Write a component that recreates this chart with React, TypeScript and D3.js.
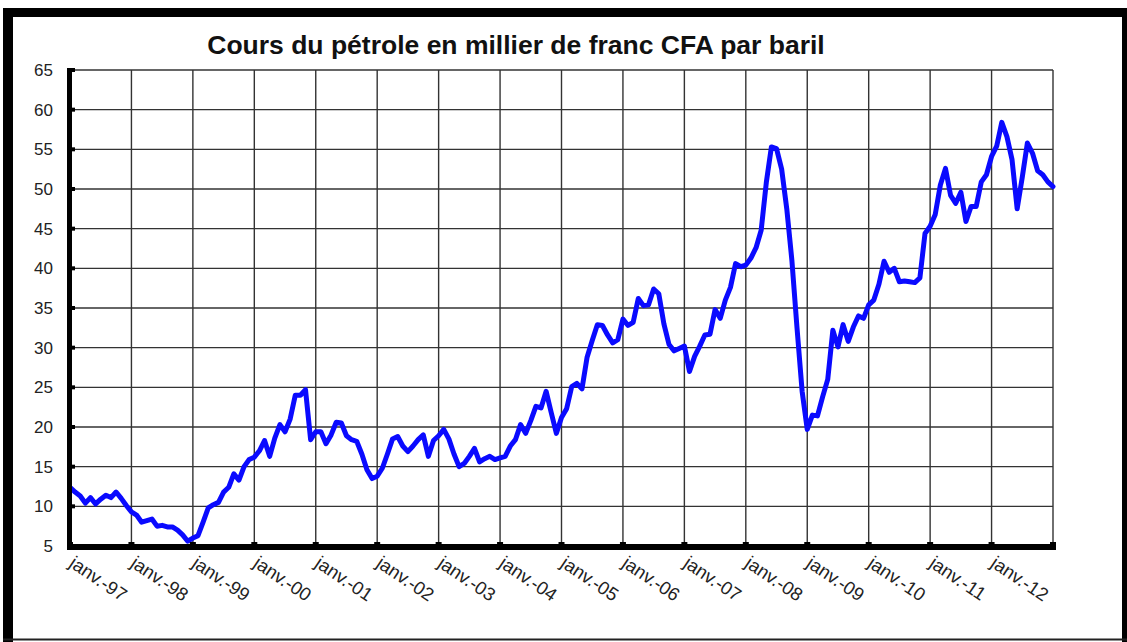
import React, { useEffect, useRef } from 'react';
import * as d3 from 'd3';

const title = "Cours du pétrole en millier de franc CFA par baril";

// monthly values (janv. -> déc.), one array per year
const y1997 = [12.4, 11.8, 11.3, 10.4, 11.1, 10.3, 10.9, 11.4, 11.1, 11.8, 11.0, 10.1];
const y1998 = [9.3, 8.9, 8.0, 8.2, 8.4, 7.5, 7.6, 7.4, 7.4, 7.0, 6.4, 5.6];
const y1999 = [6.0, 6.3, 8.0, 9.8, 10.2, 10.5, 11.8, 12.4, 14.1, 13.3, 15.0, 15.9];
const y2000 = [16.2, 17.0, 18.3, 16.3, 18.6, 20.3, 19.4, 21.0, 24.0, 24.0, 24.7, 18.4];
const y2001 = [19.4, 19.4, 17.9, 19.0, 20.6, 20.5, 18.9, 18.4, 18.2, 16.6, 14.6, 13.5];
const y2002 = [13.8, 14.8, 16.6, 18.5, 18.8, 17.6, 16.9, 17.6, 18.4, 19.0, 16.3, 18.3];
const y2003 = [18.9, 19.7, 18.5, 16.6, 15.0, 15.4, 16.3, 17.3, 15.6, 16.0, 16.3, 15.9];
const y2004 = [16.1, 16.3, 17.6, 18.4, 20.3, 19.2, 20.8, 22.6, 22.4, 24.5, 21.8, 19.2];
const y2005 = [21.2, 22.3, 25.1, 25.5, 24.8, 28.8, 30.9, 32.9, 32.8, 31.6, 30.6, 31.0];
const y2006 = [33.6, 32.8, 33.2, 36.2, 35.3, 35.4, 37.4, 36.8, 33.0, 30.4, 29.6, 29.9];
const y2007 = [30.2, 27.0, 28.9, 30.2, 31.6, 31.7, 34.8, 33.7, 36.0, 37.6, 40.6, 40.2];
const y2008 = [40.4, 41.3, 42.6, 44.8, 50.8, 55.3, 55.1, 52.5, 47.5, 41.0, 32.5, 24.5];
const y2009 = [19.7, 21.5, 21.4, 23.8, 26.0, 32.2, 30.1, 32.9, 30.8, 32.6, 34.0, 33.7];
const y2010 = [35.4, 36.0, 38.0, 40.9, 39.5, 40.0, 38.3, 38.4, 38.3, 38.2, 38.8, 44.4];
const y2011 = [45.3, 46.8, 50.5, 52.6, 49.2, 48.2, 49.6, 45.9, 47.8, 47.8, 50.9, 51.8];
const y2012 = [54.1, 55.4, 58.4, 56.6, 53.7, 47.5, 51.5, 55.8, 54.5, 52.3, 51.8, 50.9];
const y2013 = [50.3];

const prices = [
    ...y1997, ...y1998, ...y1999, ...y2000, ...y2001, ...y2002, ...y2003, ...y2004,
    ...y2005, ...y2006, ...y2007, ...y2008, ...y2009, ...y2010, ...y2011, ...y2012, ...y2013
];

const xLabels = ["janv.-97", "janv.-98", "janv.-99", "janv.-00", "janv.-01", "janv.-02", "janv.-03", "janv.-04",
    "janv.-05", "janv.-06", "janv.-07", "janv.-08", "janv.-09", "janv.-10", "janv.-11", "janv.-12"];
const yTicks = [5, 10, 15, 20, 25, 30, 35, 40, 45, 50, 55, 60, 65];

export default function App() {
    const ref = useRef<SVGSVGElement>(null);

    useEffect(() => {
        const svg = d3.select(ref.current);
        svg.selectAll("*").remove();

        const W = 1127, H = 642;
        const left = 70, right = 1053, top = 70, bottom = 546;
        const font = "'Liberation Sans', Arial, sans-serif";

        // frame
        svg.append("rect").attr("width", W).attr("height", H).attr("fill", "#fff");
        svg.append("rect").attr("x", 3).attr("y", 8).attr("width", W - 3).attr("height", 9).attr("fill", "#000");
        svg.append("rect").attr("x", 3).attr("y", 8).attr("width", 10).attr("height", H - 8).attr("fill", "#000");
        svg.append("rect").attr("x", 1122).attr("y", 8).attr("width", 5).attr("height", H - 8).attr("fill", "#000");
        svg.append("line").attr("x1", 3).attr("x2", W).attr("y1", 639.5).attr("y2", 639.5)
            .attr("stroke", "#222").attr("stroke-width", 2);

        const nMonths = prices.length - 1;
        const xScale = d3.scaleLinear().domain([0, nMonths]).range([left, right]);
        const yScale = d3.scaleLinear().domain([5, 65]).range([bottom, top]);

        // title
        svg.append("text")
            .attr("x", 516).attr("y", 54)
            .attr("text-anchor", "middle")
            .style("font-family", font)
            .style("font-weight", "bold")
            .style("font-size", "26.5px")
            .attr("fill", "#111")
            .text(title);

        // grid
        const g = svg.append("g");
        g.selectAll("line.h")
            .data(yTicks)
            .enter().append("line")
            .attr("x1", left).attr("x2", right)
            .attr("y1", d => yScale(d)).attr("y2", d => yScale(d))
            .attr("stroke", "#333").attr("stroke-width", 1.4);

        const monthTicks = d3.range(0, nMonths + 1, 12);
        g.selectAll("line.v")
            .data(monthTicks)
            .enter().append("line")
            .attr("x1", d => xScale(d)).attr("x2", d => xScale(d))
            .attr("y1", top).attr("y2", bottom)
            .attr("stroke", "#333").attr("stroke-width", 1.4);

        // y labels
        g.selectAll("text.y")
            .data(yTicks)
            .enter().append("text")
            .attr("x", 53).attr("y", d => yScale(d) + 6)
            .attr("text-anchor", "end")
            .style("font-family", font)
            .style("font-size", "17px")
            .attr("fill", "#222")
            .text(d => d);

        // x labels
        g.selectAll("text.x")
            .data(xLabels)
            .enter().append("text")
            .attr("transform", (d, i) => `translate(${xScale(i * 12) - 2},${566}) rotate(34)`)
            .style("font-family", font)
            .style("font-size", "18.5px")
            .attr("fill", "#222")
            .text(d => d);

        // line
        svg.append("path")
            .datum(prices)
            .attr("fill", "none")
            .attr("stroke", "#0a0aff")
            .attr("stroke-width", 5)
            .attr("stroke-linejoin", "round")
            .attr("stroke-linecap", "round")
            .attr("d", d3.line<number>()
                .x((d, i) => xScale(i))
                .y(d => yScale(d)));

        // thick axes with tick bumps
        svg.append("rect").attr("x", left - 3).attr("y", top - 2).attr("width", 5).attr("height", bottom - top + 6).attr("fill", "#000");
        svg.append("rect").attr("x", left - 3).attr("y", bottom - 2).attr("width", right - left + 6).attr("height", 6).attr("fill", "#000");
        svg.selectAll("rect.yt")
            .data(yTicks)
            .enter().append("rect")
            .attr("x", left - 3).attr("y", d => yScale(d) - 2)
            .attr("width", 8).attr("height", 4).attr("fill", "#000");
        svg.selectAll("rect.xt")
            .data(monthTicks)
            .enter().append("rect")
            .attr("x", d => xScale(d) - 3).attr("y", bottom - 4)
            .attr("width", 6).attr("height", 6).attr("fill", "#000");
    }, []);

    return (
        <svg ref={ref} width={1127} height={642} style={{ position: 'absolute', left: 0, top: 0 }}></svg>
    );
}
